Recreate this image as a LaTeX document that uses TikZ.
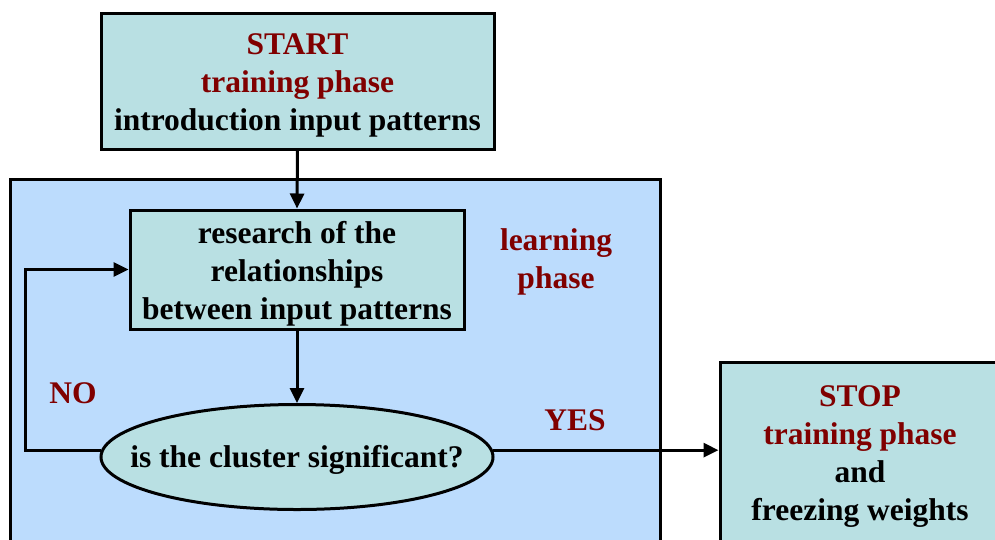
\documentclass[tikz,border=0pt]{standalone}
\usepackage{fontspec}
\setmainfont{Liberation Serif}
\usetikzlibrary{arrows.meta,shapes.geometric}
\definecolor{boxfill}{HTML}{B9E0E3}
\definecolor{learnfill}{HTML}{BCDCFD}
\definecolor{darkred}{HTML}{800000}
\tikzset{
  x=1pt, y=-1pt,
  bigbold/.style={font=\fontsize{31.5}{38}\selectfont\bfseries},
  flowbox/.style={draw=black, line width=3pt, fill=boxfill, rectangle, inner sep=0pt},
  decision/.style={draw=black, line width=3pt, fill=boxfill, ellipse, inner sep=0pt},
  boxtext/.style={bigbold, align=center, inner sep=0pt},
  tag/.style={text=darkred, bigbold, align=center, inner sep=0pt},
  flow/.style={line width=3pt, -{Triangle[length=15pt,width=14pt]}},
}
\begin{document}
\begin{tikzpicture}
\useasboundingbox (0,0) rectangle (995,539);
% learning phase region
\node[draw=black, line width=3pt, fill=learnfill, rectangle, minimum width=650pt, minimum height=370pt, inner sep=0pt] (learn) at (335,364) {};
\node[tag] (learnlabel) at (556,262) {learning\\phase};
% start box
\node[flowbox, minimum width=393pt, minimum height=136pt] (start) at (297.5,81) {};
\node[boxtext] (starttext) at (297.5,85)
  {\textcolor{darkred}{START}\\\textcolor{darkred}{training phase}\\introduction input patterns};
% research step
\node[flowbox, minimum width=334pt, minimum height=119pt] (research) at (297,269.5) {};
\node[boxtext] (researchtext) at (297,274)
  {research of the\\relationships\\between input patterns};
% decision
\node[decision, minimum width=392pt, minimum height=105pt] (dec) at (297,457) {};
\node[boxtext] (dectext) at (297,460) {is the cluster significant?};
% stop box
\node[flowbox, minimum width=280pt, minimum height=186pt] (stop) at (860,455) {};
\node[boxtext] (stoptext) at (860,457)
  {\textcolor{darkred}{STOP}\\\textcolor{darkred}{training phase}\\and\\freezing weights};
% labels
\node[tag] (no) at (73,393) {NO};
\node[tag] (yes) at (575,420) {YES};
% connectors
\coordinate (loop) at (25,450);
\draw[flow] (start.south) -- (research.north);
\draw[flow] (research.south) -- (dec.north);
\draw[flow] (dec.2) -- (stop.west |- dec.2);
\draw[flow] (dec.178) -- (loop |- dec.178) -- (loop |- research.west) -- (research.west);
\end{tikzpicture}
\end{document}
